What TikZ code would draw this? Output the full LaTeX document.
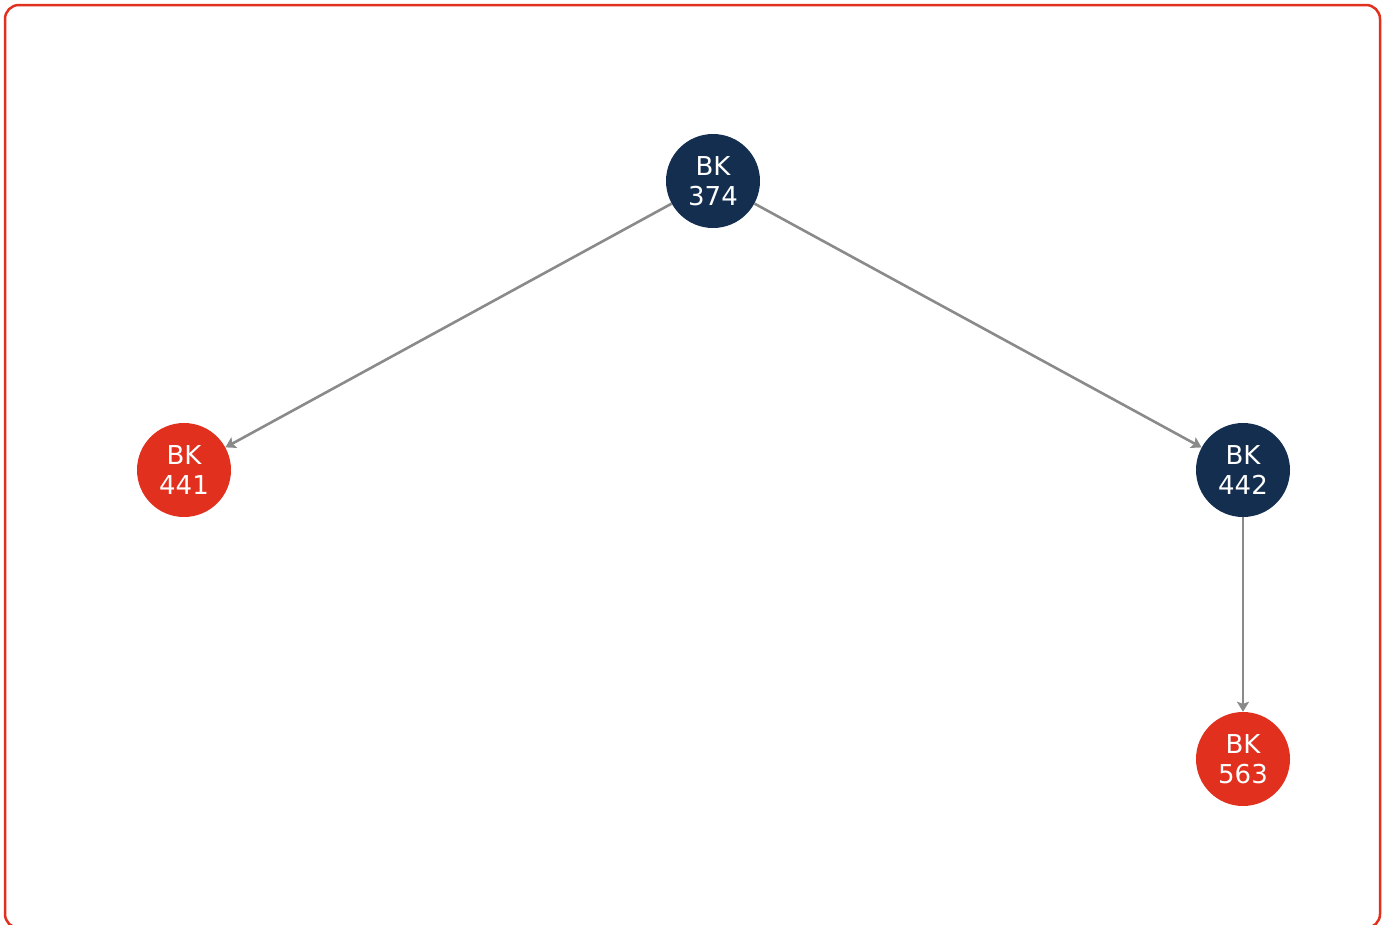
\documentclass[tikz,border=0pt]{standalone}
\usepackage{fontspec}
\setmainfont{DejaVu Sans}
\usetikzlibrary{arrows.meta}
\definecolor{navy}{HTML}{132E4E}
\definecolor{redn}{HTML}{E1301E}
\definecolor{edgegray}{HTML}{8A8A8A}
\tikzset{
  bk/.style={circle, minimum size=94pt, inner sep=0pt, text=white,
    font=\fontsize{26}{30}\selectfont, align=center},
  navynode/.style={bk, fill=navy},
  rednode/.style={bk, fill=redn},
  link/.style={draw=edgegray, line width=2.6pt, -{Stealth[length=10pt,width=12pt,inset=2pt]}}
}
\begin{document}
\begin{tikzpicture}[x=1pt,y=-1pt]
\useasboundingbox (0,0) rectangle (1387,924);
\draw[redn, line width=2.5pt, rounded corners=14pt] (5,5) rectangle (1380,928);
\node[navynode] (n374) at (713,181) {BK\\374};
\node[rednode] (n441) at (184,470) {BK\\441};
\node[navynode] (n442) at (1243,470) {BK\\442};
\node[rednode] (n563) at (1243,759) {BK\\563};
\draw[link] (n374) -- (n441);
\draw[link] (n374) -- (n442);
\draw[link] (n442) -- (n563);
\end{tikzpicture}
\end{document}
